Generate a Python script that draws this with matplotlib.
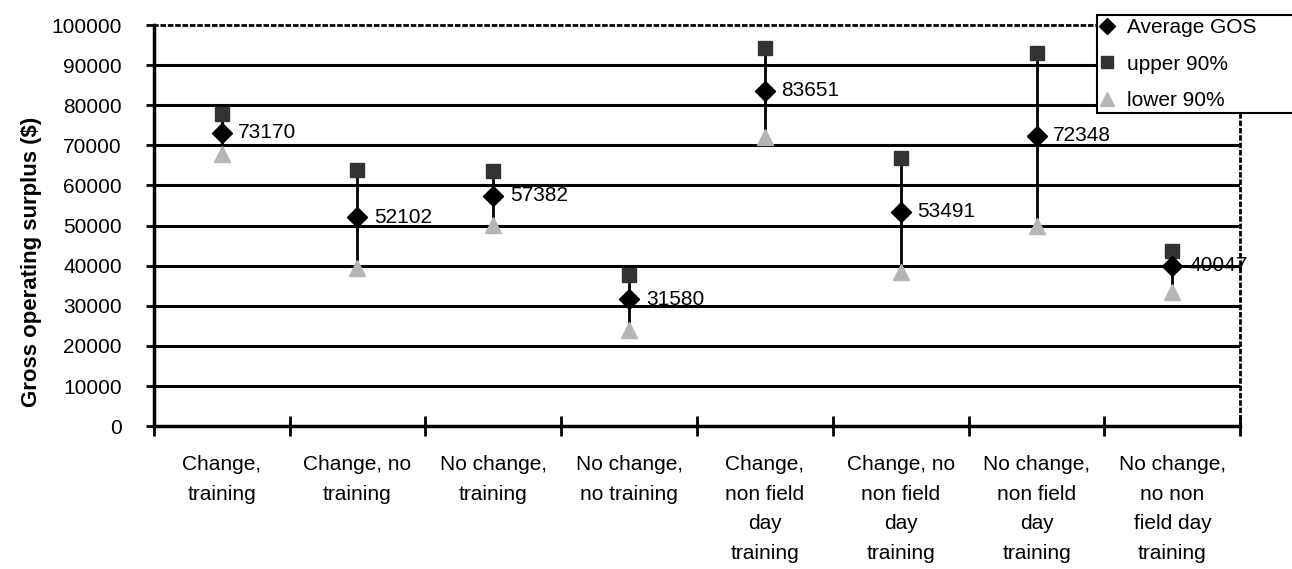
import numpy as np
import matplotlib
matplotlib.use("Agg")
from matplotlib import pyplot as plt

plt.rcParams['font.family'] = ['Liberation Sans', 'DejaVu Sans']

categories = ["Change,\ntraining", "Change, no\ntraining", "No change,\ntraining",
              "No change,\nno training", "Change,\nnon field\nday\ntraining",
              "Change, no\nnon field\nday\ntraining", "No change,\nnon field\nday\ntraining",
              "No change,\nno non\nfield day\ntraining"]
average_gos = [73170, 52102, 57382, 31580, 83651, 53491, 72348, 40047]
upper_90 = [77800, 63800, 63700, 37800, 94300, 66800, 93000, 43700]
lower_90 = [67800, 39500, 50200, 24000, 72000, 38500, 49800, 33500]
y_ticks = np.arange(0, 100001, 10000)

fs = 15

fig = plt.figure(figsize=(12.92, 5.69), dpi=100)
ax = fig.add_axes([0.119, 0.251, 0.841, 0.705])

x = np.arange(len(categories))

# heavy horizontal gridlines like the original
for yv in y_ticks[1:-1]:
    ax.axhline(yv, color='black', lw=2.2, zorder=1)

ax.vlines(x, lower_90, upper_90, color='black', lw=2, zorder=2)
ax.plot(x, upper_90, 's', color='#333333', markersize=10, linestyle='none',
        label='upper 90%', zorder=3)
ax.plot(x, lower_90, '^', color='#b5b5b5', markersize=12, linestyle='none',
        label='lower 90%', zorder=3)
ax.plot(x, average_gos, 'D', color='black', markersize=10, linestyle='none',
        label='Average GOS', zorder=4)

for xi, v in zip(x, average_gos):
    ax.annotate(str(v), (xi, v), xytext=(12, 0), textcoords='offset points',
                va='center', ha='left', fontsize=fs, zorder=5)

ax.set_xlim(-0.5, len(categories) - 0.5)
ax.set_ylim(0, 100000)
ax.set_yticks(y_ticks)
ax.set_yticklabels([str(v) for v in y_ticks], fontsize=fs)
ax.set_xticks(x)
ax.set_xticklabels(categories, fontsize=fs, va='top', linespacing=1.7)
ax.set_xticks(np.arange(-0.5, len(categories)), minor=True)
ax.tick_params(axis='x', which='major', length=0, pad=21)
ax.tick_params(axis='x', which='minor', direction='inout', length=14, width=2)
ax.tick_params(axis='y', direction='out', length=6, width=2, pad=17)

ax.set_ylabel('Gross operating surplus ($)', fontsize=16, fontweight='bold')
ax.yaxis.set_label_coords(-0.103, 0.41)

ax.spines['left'].set_linewidth(2.5)
ax.spines['bottom'].set_linewidth(2.5)
ax.spines['top'].set_linestyle(':')
ax.spines['top'].set_linewidth(2)
ax.spines['right'].set_linestyle(':')
ax.spines['right'].set_linewidth(2)

handles, labels = ax.get_legend_handles_labels()
order = [2, 0, 1]
leg = fig.legend([handles[i] for i in order], [labels[i] for i in order],
                 loc='upper left', bbox_to_anchor=(0.849, 0.974, 0.16, 0.0),
                 mode='expand', fontsize=fs, markerscale=0.8,
                 frameon=True, fancybox=False, edgecolor='black', framealpha=1,
                 handlelength=0.7, handletextpad=0.6, borderpad=0.15,
                 labelspacing=0.85, borderaxespad=0)
leg.get_frame().set_linewidth(1.5)

fig.savefig('out.png', dpi=100)
